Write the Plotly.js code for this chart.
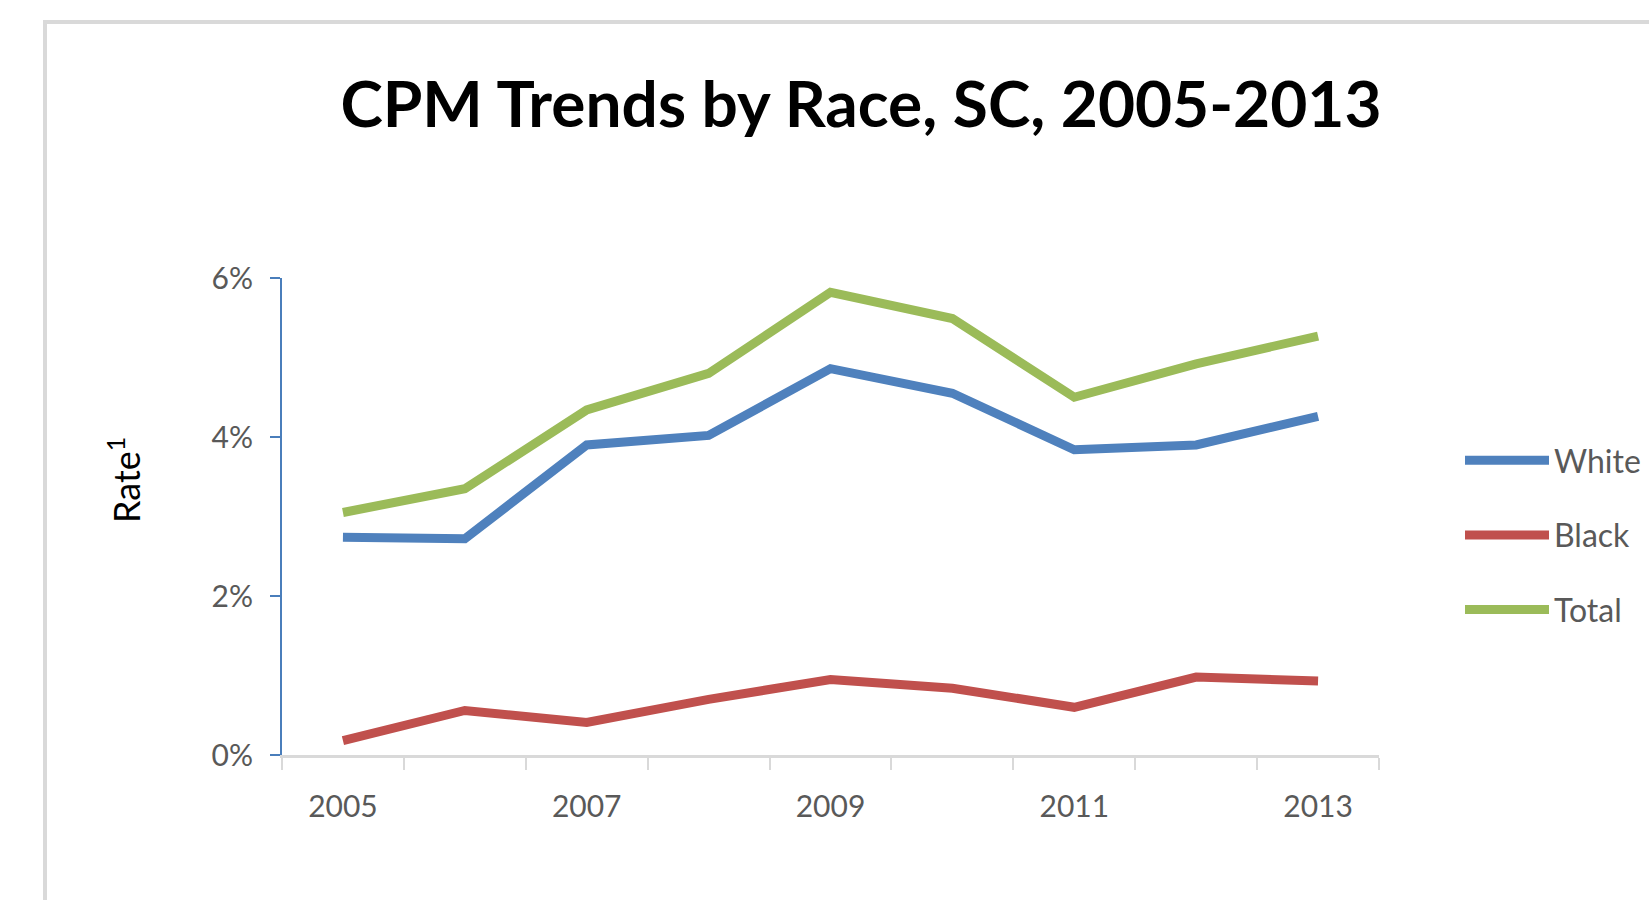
<!DOCTYPE html>
<html>
<head>
<meta charset="utf-8">
<script src="https://cdn.plot.ly/plotly-3.0.1.min.js"></script>
<style>
  html, body { margin: 0; padding: 0; background: #ffffff; }
  #chart { width: 1649px; height: 900px; }
</style>
</head>
<body>
<div id="chart"></div>
<script>
// ---- data ----
var years = [2005, 2006, 2007, 2008, 2009, 2010, 2011, 2012, 2013];
var xTickLabels = ['2005', '2007', '2009', '2011', '2013'];
var whiteRate = [0.0274, 0.0272, 0.0390, 0.0402, 0.0486, 0.0455, 0.0384, 0.0390, 0.0426];
var blackRate = [0.0018, 0.0056, 0.0041, 0.0070, 0.0095, 0.0084, 0.0060, 0.0098, 0.0093];
var totalRate = [0.0305, 0.0335, 0.0434, 0.0480, 0.0582, 0.0549, 0.0450, 0.0492, 0.0527];
var seriesNames = ['White', 'Black', 'Total'];
var yTickVals = [0, 0.02, 0.04, 0.06];
var chartTitle = 'CPM Trends by Race, SC, 2005-2013';
var yTitle = 'Rate<sup>1</sup>';

// ---- styling ----
var colors = ['#4f81bd', '#c0504d', '#9bbb59'];
var font = 'Lato, "Open Sans", "Liberation Sans", Arial, sans-serif';
var W = 1649, H = 900;
var M = {l: 282, r: 270, t: 278, b: 145, autoexpand: false};
var pw = W - M.l - M.r, ph = H - M.t - M.b;
function px2x(px) { return (px - M.l) / pw; }
function px2y(py) { return (H - M.b - py) / ph; }

// category boundaries for the x tick marks (between years)
var boundaries = years.map(function (y) { return y - 0.5; });
boundaries.push(years[years.length - 1] + 0.5);

var seriesValues = [whiteRate, blackRate, totalRate];
var traces = seriesValues.map(function (vals, i) {
  return {
    type: 'scatter', mode: 'lines',
    x: years, y: vals, name: seriesNames[i],
    legendgroup: seriesNames[i],
    line: {color: colors[i], width: 9},
    hoverinfo: 'x+y+name'
  };
});

var layout = {
  width: W, height: H,
  margin: M,
  paper_bgcolor: '#ffffff', plot_bgcolor: '#ffffff',
  title: {
    text: '<b>' + chartTitle + '</b>',
    font: {family: font, size: 64, color: '#000000'},
    xref: 'container', yref: 'container',
    x: 861 / W, xanchor: 'center',
    y: 1 - 105 / H, yanchor: 'middle'
  },
  xaxis: {
    type: 'linear',
    range: [boundaries[0], boundaries[boundaries.length - 1]],
    tickmode: 'array', tickvals: xTickLabels.map(Number), ticktext: xTickLabels,
    ticks: '',
    minor: {
      tickmode: 'array', tickvals: boundaries,
      ticks: 'outside', ticklen: 12, tickwidth: 2, tickcolor: '#d9d9d9',
      showgrid: false
    },
    showline: true, linecolor: '#d9d9d9', linewidth: 3,
    showgrid: false, zeroline: false,
    tickfont: {family: font, size: 30, color: '#595959'},
    ticklabelstandoff: 23
  },
  yaxis: {
    range: [0, 0.06],
    tickmode: 'array', tickvals: yTickVals, tickformat: '.0%',
    ticks: 'outside', ticklen: 10, tickwidth: 2, tickcolor: '#4a7ebb',
    showline: true, linecolor: '#4a7ebb', linewidth: 2,
    showgrid: false, zeroline: false,
    tickfont: {family: font, size: 30, color: '#595959'},
    ticklabelstandoff: 11
  },
  showlegend: true,
  legend: {
    x: px2x(1460), xanchor: 'left',
    y: px2y(433), yanchor: 'top',
    font: {family: font, size: 32, color: '#595959'},
    itemwidth: 84,
    tracegroupgap: 30,
    bgcolor: 'rgba(0,0,0,0)'
  },
  annotations: [{
    text: yTitle, showarrow: false,
    xref: 'paper', yref: 'paper',
    x: px2x(124), y: px2y(480),
    xanchor: 'center', yanchor: 'middle',
    textangle: -90,
    font: {family: font, size: 36, color: '#000000'}
  }],
  shapes: [{
    type: 'path', xref: 'paper', yref: 'paper',
    path: 'M ' + px2x(45) + ' ' + px2y(920) + ' L ' + px2x(45) + ' ' + px2y(22) + ' L ' + px2x(1670) + ' ' + px2y(22),
    line: {color: '#d9d9d9', width: 4},
    layer: 'below'
  }]
};

Plotly.newPlot('chart', traces, layout, {displayModeBar: false, responsive: false});
</script>
</body>
</html>
